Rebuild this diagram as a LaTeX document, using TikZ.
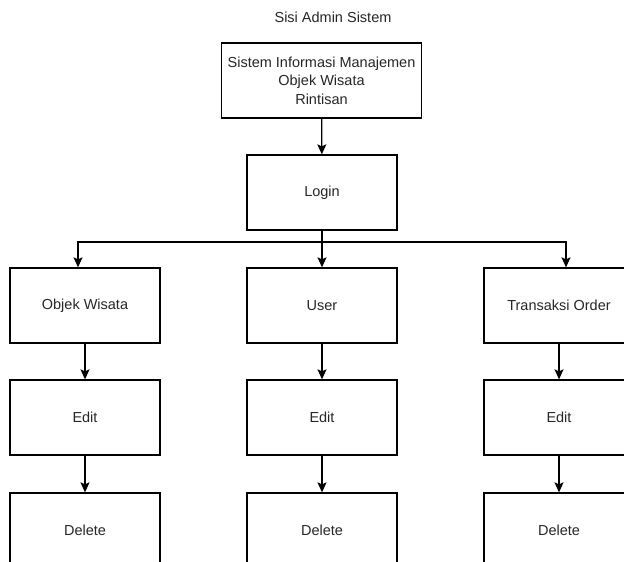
\documentclass[tikz,border=0pt]{standalone}
\usepackage{fontspec}
\setmainfont{Liberation Sans}
\usetikzlibrary{arrows.meta}
\begin{document}
\begin{tikzpicture}[x=1pt,y=-1pt,
  txt/.style={font=\fontsize{14.5}{18.5}\selectfont, text=black!85},
  box/.style={txt, draw, line width=1.3pt, minimum width=150pt, minimum height=75pt, inner sep=0pt, align=center},
  conn/.style={draw, line width=1.3pt, -{Stealth[length=10pt,width=9pt,inset=2pt]}}]
\useasboundingbox (0,0) rectangle (624,562);
\node[txt] (title) at (333,17) {Sisi Admin Sistem};
\node[box, minimum width=200pt] (sim) at (321.5,80.5) {Sistem Informasi Manajemen\\Objek Wisata\\Rintisan};
\node[box] (login) at (322,192.5) {Login};
\node[box] (ow) at (85,305.5) {Objek Wisata};
\node[box] (us) at (322,305.5) {User};
\node[box] (tr) at (559,305.5) {Transaksi Order};
\node[box] (e1) at (85,417.5) {Edit};
\node[box] (e2) at (322,417.5) {Edit};
\node[box] (e3) at (559,417.5) {Edit};
\node[box] (d1) at (85,530.5) {Delete};
\node[box] (d2) at (322,530.5) {Delete};
\node[box] (d3) at (559,530.5) {Delete};
\coordinate (bus) at (322,242);
\draw[conn] (sim) -- (login);
\draw[conn] (login.south) -- (bus) -| ([xshift=-7pt]ow.north);
\draw[conn] (login.south) -- (bus) -| ([xshift=7pt]tr.north);
\draw[conn] (login) -- (us);
\draw[conn] (ow) -- (e1);
\draw[conn] (us) -- (e2);
\draw[conn] (tr) -- (e3);
\draw[conn] (e1) -- (d1);
\draw[conn] (e2) -- (d2);
\draw[conn] (e3) -- (d3);
\end{tikzpicture}
\end{document}
